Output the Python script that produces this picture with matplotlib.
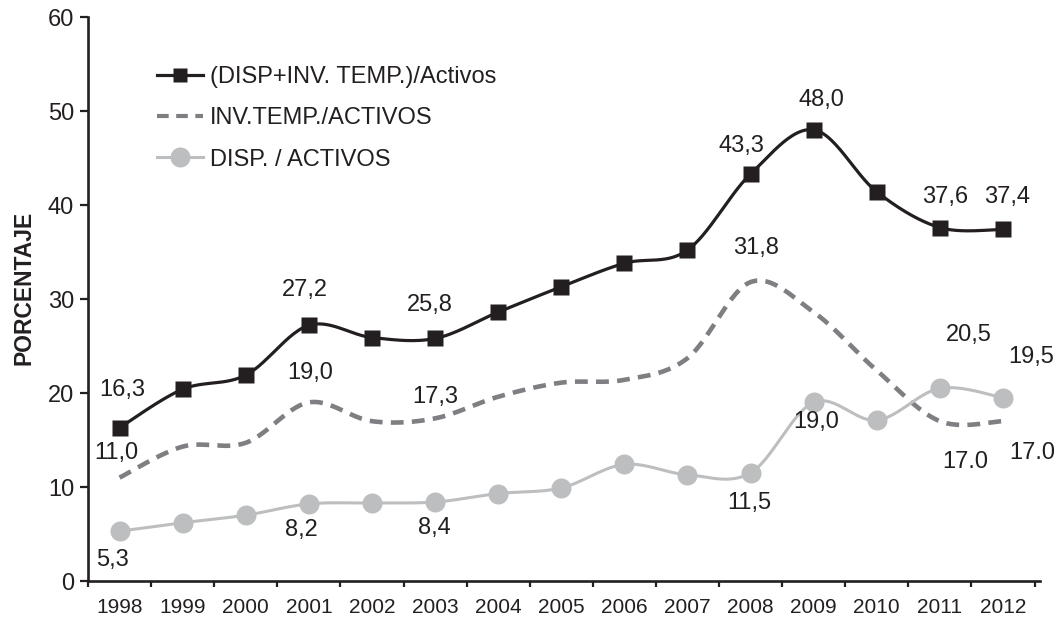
import numpy as np
import matplotlib
matplotlib.use("Agg")
import matplotlib.pyplot as plt
from matplotlib.lines import Line2D

# ---- data -------------------------------------------------------------
years = ["1998", "1999", "2000", "2001", "2002", "2003", "2004", "2005",
         "2006", "2007", "2008", "2009", "2010", "2011", "2012"]
disp_inv_activos = [16.3, 20.4, 21.9, 27.2, 25.9, 25.8, 28.6, 31.3,
                    33.8, 35.2, 43.3, 48.0, 41.4, 37.6, 37.4]
inv_temp_activos = [11.0, 14.3, 14.7, 19.0, 17.0, 17.3, 19.6, 21.1,
                    21.4, 23.7, 31.8, 28.6, 22.4, 17.0, 17.0]
disp_activos = [5.3, 6.2, 7.0, 8.2, 8.3, 8.4, 9.3, 9.9,
                12.4, 11.3, 11.5, 19.0, 17.1, 20.5, 19.5]

series_names = ["(DISP+INV. TEMP.)/Activos", "INV.TEMP./ACTIVOS", "DISP. / ACTIVOS"]

# value labels: (series index, point index, decimal separator)
labelled = [
    (0, 0, ","), (0, 3, ","), (0, 5, ","), (0, 10, ","), (0, 11, ","), (0, 13, ","), (0, 14, ","),
    (1, 0, ","), (1, 3, ","), (1, 5, ","), (1, 10, ","), (1, 13, "."), (1, 14, "."),
    (2, 0, ","), (2, 3, ","), (2, 5, ","), (2, 10, ","), (2, 11, ","), (2, 13, ","), (2, 14, ","),
]
# label offsets from their point, in pixels (x right, y up)
label_offsets = [
    (3, 38), (-4, 35), (-5, 33), (-9, 28), (8, 30), (5, 31), (4, 32),
    (-3, 25), (1, 29), (0, 21), (5, 34), (25, -41), (29, -32),
    (-7, -29), (-7, -26), (-1, -26), (-1, -30), (3, -20), (29, 53), (28, 41),
]

# ---- style ------------------------------------------------------------
TEXT = "#231f20"
C_TOTAL = "#231f20"
C_INV = "#7d7f82"
C_DISP = "#bcbec0"
FONT = ["Liberation Sans", "DejaVu Sans"]
NARROW = ["Liberation Sans Narrow", "Liberation Sans", "DejaVu Sans"]

plt.rcParams["font.family"] = FONT


def smooth(xs, ys, n=30):
    """Catmull-Rom curve through the points, drawn as cubic Bezier segments."""
    pts = np.column_stack([xs, ys]).astype(float)
    P = np.vstack([pts[0], pts, pts[-1]])
    out = []
    t = np.linspace(0, 1, n)[:, None]
    for i in range(1, len(P) - 2):
        p0, p1, p2, p3 = P[i - 1], P[i], P[i + 1], P[i + 2]
        c1 = p1 + (p2 - p0) / 6.0
        c2 = p2 - (p3 - p1) / 6.0
        seg = ((1 - t) ** 3) * p1 + 3 * ((1 - t) ** 2) * t * c1 \
            + 3 * (1 - t) * t ** 2 * c2 + t ** 3 * p2
        out.append(seg if i == len(P) - 3 else seg[:-1])
    out = np.vstack(out)
    return out[:, 0], out[:, 1]


W, H = 1056, 620
fig = plt.figure(figsize=(W / 100, H / 100), dpi=100)
ax = fig.add_axes([88 / W, 39 / H, (1040 - 88) / W, 564 / H])

x = np.arange(len(years))
series = [disp_inv_activos, inv_temp_activos, disp_activos]

# dashed series (no markers)
sx, sy = smooth(x, inv_temp_activos)
ax.plot(sx, sy, color=C_INV, lw=3.3, ls=(0, (2.8, 1.8)), zorder=2,
        solid_capstyle="butt", dash_capstyle="butt", clip_on=False)

# light grey series with circles
sx, sy = smooth(x, disp_activos)
ax.plot(sx, sy, color=C_DISP, lw=2.2, zorder=3, clip_on=False)
ax.plot(x, disp_activos, ls="none", marker="o", ms=14.4, mfc=C_DISP,
        mec="none", zorder=3, clip_on=False)

# black series with squares
sx, sy = smooth(x, disp_inv_activos)
ax.plot(sx, sy, color=C_TOTAL, lw=2.3, zorder=4, clip_on=False)
ax.plot(x, disp_inv_activos, ls="none", marker="s", ms=11.5, mfc=C_TOTAL,
        mec="none", zorder=4, clip_on=False)

# value labels
for (si, pi, sep), (dx, dy) in zip(labelled, label_offsets):
    v = series[si][pi]
    txt = f"{v:.1f}".replace(".", sep)
    ax.annotate(txt, (x[pi], v), xytext=(dx, dy), textcoords="offset pixels",
                ha="center", va="center", fontsize=17, color=TEXT, zorder=6,
                annotation_clip=False)

# axes
ax.set_xlim(-0.5, 14.587)
ax.set_ylim(0, 60)
for side in ("top", "right"):
    ax.spines[side].set_visible(False)
for side in ("left", "bottom"):
    ax.spines[side].set_linewidth(1.9)
    ax.spines[side].set_color(TEXT)

ax.set_yticks(np.arange(0, 61, 10))
ax.tick_params(axis="y", direction="out", length=6, width=1.6, pad=4,
               labelsize=17, colors=TEXT)

ax.set_xticks(x)
ax.set_xticklabels(years, fontfamily=NARROW, fontsize=15, color=TEXT)
ax.set_xticks(np.arange(-0.5, 15, 1.0), minor=True)
ax.tick_params(axis="x", which="major", length=0, pad=12.5)
ax.tick_params(axis="x", which="minor", direction="out", length=4,
               width=1.6, colors=TEXT)

ax.set_ylabel("PORCENTAJE", fontsize=16.5, fontweight="bold", color=TEXT,
              va="center")
ax.yaxis.set_label_coords((24 - 88) / 952, (581 - 288) / 564)

# legend
handles = [
    Line2D([], [], color=C_TOTAL, lw=2.3, marker="s", ms=10.5, mfc=C_TOTAL, mec="none"),
    Line2D([], [], color=C_INV, lw=3.0, ls=(0, (2.8, 1.8))),
    Line2D([], [], color=C_DISP, lw=2.2, marker="o", ms=14.4, mfc=C_DISP, mec="none"),
]
leg = ax.legend(handles, series_names, loc="upper left",
                bbox_to_anchor=(157 / W, 1 - 66 / H), bbox_transform=fig.transFigure,
                frameon=False, fontsize=17, handlelength=1.95, handletextpad=0.3,
                labelspacing=0.82, borderpad=0, borderaxespad=0, labelcolor=TEXT)

fig.savefig("out.png", dpi=100)
